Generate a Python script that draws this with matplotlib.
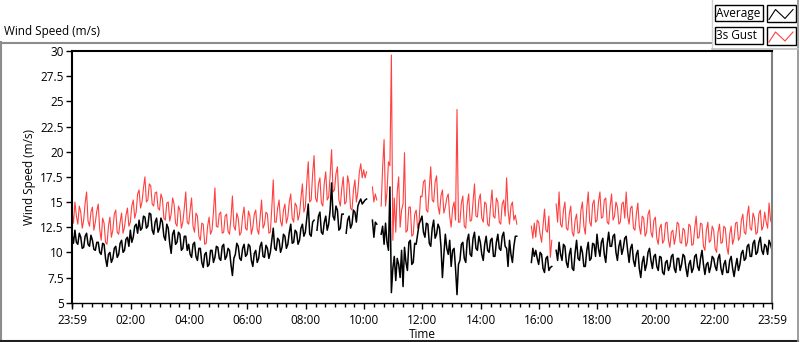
import numpy as np
import matplotlib
matplotlib.use("Agg")
import matplotlib.pyplot as plt
from matplotlib.patches import Rectangle
from matplotlib.lines import Line2D
from matplotlib.ticker import FixedLocator, FormatStrFormatter

plt.rcParams['font.family'] = ['Open Sans', 'DejaVu Sans']
plt.rcParams['font.size'] = 8.5

nan = np.nan

# one sample every 3 minutes, hours counted from 23:59 (one row per hour)
gust = [
    14.2, 12.9, 15.0, 13.6, 12.8, 14.6, 14.0, 12.4, 13.2, 14.9, 16.0, 13.1, 12.6, 14.0, 14.5, 12.2, 13.0, 14.1, 14.8, 12.3,
    11.2, 13.4, 12.9, 11.0, 10.8, 12.6, 13.5, 11.5, 12.2, 13.8, 14.2, 12.0, 11.8, 13.0, 13.9, 11.9, 12.5, 13.7, 14.4, 12.6,
    13.0, 14.6, 15.2, 13.4, 14.0, 15.8, 16.2, 14.4, 15.0, 16.4, 17.5, 15.0, 15.2, 16.8, 16.6, 14.8, 14.6, 15.9, 16.0, 14.4,
    14.2, 15.8, 15.3, 13.4, 13.2, 14.9, 15.0, 13.1, 13.8, 15.4, 14.8, 12.9, 12.6, 14.6, 14.2, 12.4, 13.0, 14.4, 16.0, 13.0,
    12.8, 14.2, 15.4, 12.6, 12.0, 13.9, 13.6, 11.6, 11.2, 12.9, 12.8, 10.8, 10.9, 12.6, 13.5, 11.8, 12.2, 14.0, 16.4, 12.6,
    12.5, 13.8, 14.0, 11.9, 12.0, 13.6, 13.8, 12.1, 11.8, 13.4, 15.6, 12.6, 12.2, 13.9, 13.4, 11.7, 12.0, 13.6, 14.5, 12.4,
    12.2, 14.1, 13.6, 11.8, 12.5, 13.8, 14.2, 12.3, 11.8, 13.5, 15.2, 12.4, 12.8, 14.0, 13.8, 11.9, 12.0, 14.4, 17.2, 13.0,
    13.0, 14.4, 15.2, 13.1, 12.6, 14.2, 14.8, 12.9, 13.5, 15.0, 15.8, 13.4, 13.0, 14.9, 14.6, 13.2, 13.8, 15.4, 16.8, 14.0,
    14.5, 17.0, 19.0, 15.0, 15.2, 17.8, 19.6, 15.4, 15.0, 16.8, 17.4, 14.9, 14.6, 16.9, 18.0, 15.2, 15.5, 17.6, 20.2, 16.0,
    16.2, 17.8, 18.5, 15.2, 14.6, 16.4, 17.5, 14.8, 15.0, 17.6, 16.8, 14.4, 14.2, 16.2, 17.2, 15.0, 16.0, 17.9, 18.8, 17.4,
    18.2, 17.4, 18.0, nan, nan, nan, 16.5, 15.0, 15.8, 15.2, nan, nan, 14.6, 18.4, 21.2, 14.6, 16.0, 19.0, 18.6, 29.6,
    11.2, 15.4, 12.0, 16.0, 17.5, 12.5, 14.2, 14.8, 19.9, 12.0, 12.2, 14.5, 14.5, 11.6, 11.8, 13.8, 14.2, 12.4, 13.0, 15.6,
    15.5, 17.0, 17.2, 14.2, 14.0, 16.4, 18.5, 15.2, 15.0, 17.0, 17.6, 14.6, 13.8, 15.6, 16.2, 13.9, 14.5, 15.4, 15.8, 13.6,
    12.5, 14.4, 15.0, 13.2, 24.2, 13.0, 13.0, 14.9, 15.6, 12.6, 12.4, 14.8, 15.8, 13.1, 13.2, 15.0, 16.8, 13.6, 13.5, 15.2,
    15.8, 13.4, 13.0, 15.0, 14.8, 12.8, 12.6, 14.6, 16.2, 13.6, 13.4, 15.4, 15.0, 13.0, 12.8, 14.8, 15.2, 13.6, 17.4, 14.2,
    12.8, 14.6, 15.0, 13.2, 13.7, 12.8, nan, nan, nan, nan, nan, nan, nan, nan, nan, 12.6, 11.4, 12.9, 11.5, 13.2,
    13.0, 11.8, 11.0, 12.6, 14.3, 12.2, 12.0, 13.6, 9.5, 11.2, nan, nan, 14.8, 13.0, 16.0, 12.8, 12.5, 14.2, 15.0, 12.4,
    12.2, 13.8, 14.6, 12.0, 11.6, 13.2, 13.8, 11.9, 12.0, 14.2, 15.0, 12.6, 11.8, 14.4, 16.0, 13.0, 12.6, 14.8, 15.2, 13.0,
    13.2, 15.0, 16.0, 13.4, 13.5, 15.2, 15.4, 13.0, 12.8, 14.6, 15.8, 13.2, 13.6, 15.0, 14.5, 12.8, 13.0, 14.8, 15.0, 13.4,
    16.0, 13.6, 12.8, 14.4, 14.6, 12.4, 12.2, 13.8, 14.9, 12.6, 11.8, 13.6, 13.4, 11.6, 12.0, 13.8, 14.2, 12.0, 11.5, 13.2,
    13.5, 11.4, 10.8, 12.4, 12.8, 10.9, 11.2, 12.9, 13.0, 11.2, 10.5, 12.0, 12.2, 10.8, 11.6, 13.0, 12.8, 11.0, 10.9, 12.4,
    12.2, 10.6, 11.0, 12.8, 12.6, 10.7, 10.8, 12.4, 13.6, 11.4, 11.5, 12.9, 12.8, 10.6, 10.2, 12.2, 13.0, 11.0, 11.2, 12.6,
    12.2, 10.4, 10.0, 12.0, 12.8, 10.9, 11.0, 12.6, 12.4, 10.6, 9.8, 11.8, 12.6, 10.8, 11.4, 12.9, 13.0, 11.2, 11.5, 13.2,
    13.8, 12.0, 11.8, 13.6, 14.6, 12.4, 12.2, 13.9, 13.4, 11.8, 12.0, 13.8, 14.2, 12.2, 12.6, 14.0, 13.0, 12.4, 14.9, 13.2,
    12.8,
]

average = [
    11.8, 10.9, 12.2, 11.0, 10.8, 11.9, 11.5, 10.4, 10.5, 11.6, 11.9, 10.8, 10.6, 11.7, 11.2, 10.3, 10.2, 11.0, 11.0, 10.0,
    9.8, 10.9, 10.8, 9.4, 8.6, 9.8, 10.0, 9.0, 9.4, 10.4, 10.6, 9.5, 9.8, 10.9, 11.2, 10.0, 10.2, 11.3, 11.5, 10.6,
    12.2, 11.0, 11.5, 12.6, 12.8, 11.9, 13.2, 12.2, 12.4, 13.6, 13.5, 12.4, 12.6, 13.9, 13.8, 12.2, 11.8, 13.0, 13.4, 12.0,
    12.4, 13.4, 13.0, 11.6, 11.2, 12.8, 12.4, 10.9, 9.9, 11.8, 12.2, 10.8, 11.0, 12.0, 11.8, 10.2, 10.4, 11.6, 11.6, 10.2,
    10.8, 9.8, 9.5, 10.8, 11.0, 9.6, 9.2, 10.4, 10.4, 9.0, 8.5, 9.8, 10.0, 8.6, 8.8, 10.2, 10.2, 9.0, 9.5, 10.6,
    10.5, 9.4, 9.2, 10.6, 10.8, 9.3, 9.6, 10.4, 10.2, 8.8, 7.7, 9.4, 9.8, 10.9, 10.6, 9.4, 9.2, 10.4, 10.8, 9.6,
    9.8, 10.8, 10.6, 9.2, 8.6, 9.9, 10.2, 9.0, 9.4, 10.6, 11.0, 9.6, 9.5, 10.7, 10.4, 9.4, 10.0, 11.2, 12.4, 10.4,
    10.2, 11.4, 11.2, 10.0, 10.5, 11.8, 11.6, 10.4, 10.8, 12.0, 12.8, 10.9, 11.0, 12.2, 12.0, 10.8, 11.2, 12.4, 12.8, 11.6,
    12.0, 13.4, 14.8, 11.8, 11.6, 13.0, 13.2, nan, 12.2, 13.6, 14.0, 12.0, 11.8, 13.0, 13.6, 12.2, 12.8, 14.2, 16.9, 13.6,
    13.2, 14.6, 14.2, 12.2, 12.4, 13.8, 13.8, nan, 11.9, 13.2, 13.6, 12.4, 12.8, 14.2, 14.0, 13.0, 14.6, 15.0, 15.3, 14.8,
    15.0, 15.2, 15.3, nan, nan, nan, 13.2, 11.5, 13.0, 12.8, nan, nan, 11.8, 12.6, 10.8, 12.9, 11.0, 10.2, 16.5, 6.0,
    8.4, 9.6, 7.2, 9.4, 8.8, 7.5, 10.2, 6.6, 10.5, 9.0, 8.2, 11.0, 11.2, 8.8, 9.0, 10.9, 10.8, 11.8, 12.8, 13.2,
    13.6, 12.0, 11.5, 12.9, 12.8, 10.9, 10.6, 12.4, 13.2, 11.4, 11.8, 12.8, 12.4, 10.6, 7.5, 9.8, 11.8, 10.4, 9.8, 11.2,
    8.6, 10.2, 10.4, 8.4, 5.8, 8.8, 9.2, 10.8, 11.0, 9.4, 9.0, 11.2, 11.8, 9.8, 9.6, 11.4, 12.0, 10.4, 10.2, 11.6,
    11.0, 9.8, 9.2, 10.8, 11.6, 10.2, 10.0, 11.2, 11.4, 9.6, 9.6, 11.0, 11.8, 10.4, 10.2, 11.6, 12.0, 10.6, 10.4, 8.6,
    11.2, 9.8, 9.0, 10.6, 11.6, 11.6, nan, nan, nan, nan, nan, nan, nan, nan, nan, 9.0, 10.4, 9.6, 10.2, 9.4,
    8.8, 10.0, 9.8, 8.4, 8.0, 9.4, 9.6, 8.2, 8.5, 8.6, nan, nan, 10.2, 9.2, 11.0, 9.8, 9.2, 10.8, 10.6, 9.0,
    8.5, 9.8, 10.4, 8.4, 8.2, 10.0, 11.2, 9.4, 9.2, 10.6, 10.0, 8.6, 8.6, 10.2, 11.0, 9.2, 9.4, 10.9, 10.8, 9.6,
    11.8, 10.4, 9.6, 11.0, 11.4, 9.8, 9.0, 10.8, 12.0, 10.6, 10.6, 11.6, 11.8, 10.0, 9.2, 10.6, 11.2, 9.8, 10.4, 11.4,
    11.6, 10.2, 9.0, 10.4, 10.8, 9.2, 8.6, 9.8, 10.2, 8.4, 7.5, 9.0, 9.6, 8.2, 8.8, 10.0, 10.4, 9.2, 8.4, 9.6,
    9.8, 8.6, 8.2, 9.6, 9.5, 8.0, 7.8, 9.0, 9.2, 8.2, 8.6, 9.6, 9.8, 8.4, 8.0, 9.4, 9.4, 8.2, 8.8, 9.8,
    9.6, 8.4, 7.6, 8.8, 9.2, 8.0, 8.4, 9.6, 9.8, 8.6, 8.2, 9.4, 10.2, 8.8, 7.8, 8.8, 9.0, 8.0, 8.6, 9.6,
    9.4, 8.6, 8.2, 9.4, 9.8, 8.4, 7.8, 8.8, 9.2, 8.0, 8.0, 9.2, 9.6, 8.4, 7.6, 8.6, 9.4, 8.2, 8.8, 9.9,
    10.2, 9.2, 9.4, 10.6, 10.8, 9.6, 9.6, 10.9, 11.2, 9.8, 10.0, 11.0, 11.5, 10.2, 9.8, 10.8, 10.6, 9.8, 11.2, 10.8,
    10.2,
]

hours = np.arange(len(gust)) * 0.05
tick_labels = ['23:59', '02:00', '04:00', '06:00', '08:00', '10:00', '12:00',
               '14:00', '16:00', '18:00', '20:00', '22:00', '23:59']
y_ticks = [5, 7.5, 10, 12.5, 15, 17.5, 20, 22.5, 25, 27.5, 30]

W, H = 800, 342
fig = plt.figure(figsize=(W / 100, H / 100), dpi=100)

# panel decoration drawn in pixel space
bg = fig.add_axes([0, 0, 1, 1], zorder=0)
bg.set_xlim(0, W)
bg.set_ylim(H, 0)
bg.axis('off')
gray = '#8c8c8c'
bg.add_line(Line2D([0, 712], [42.5, 42.5], color=gray, lw=1.5))
bg.add_line(Line2D([0.7, 0.7], [42, H], color=gray, lw=1.5))
bg.add_line(Line2D([0, 798], [341, 341], color='#202020', lw=1.5))
bg.add_line(Line2D([797.5, 797.5], [0, H], color=gray, lw=1.2))
bg.add_line(Line2D([711.5, 711.5], [0, 48.5], color='#d0d0d0', lw=1))
bg.add_line(Line2D([711.5, 798], [48.5, 48.5], color='#c0c0c0', lw=1.2))
bg.text(4, 32, 'Wind Speed (m/s)', va='center', ha='left')

# legend: name box + line icon box
for row, (name, col) in enumerate([('Average', 'black'), ('3s Gust', '#ff4040')]):
    y0 = 4.5 + row * 22.5
    bg.add_patch(Rectangle((715, y0), 47.5, 16.5, fill=False, ec='black', lw=1))
    bg.add_patch(Rectangle((767, y0), 28.5, 17.5, fill=False, ec='black', lw=1))
    bg.text(716.5, y0 + 8.5, name, va='center', ha='left')
    bg.plot([769, 775.5, 785, 793], [y0 + 15, y0 + 5, y0 + 14, y0 + 5], color=col, lw=0.8)

ax = fig.add_axes([72 / W, (H - 302.7) / H, 700 / W, (302.7 - 51) / H], zorder=1)
ax.set_facecolor('white')
ax.plot(hours, gust, color='#ff4040', lw=0.8)
ax.plot(hours, average, color='black', lw=1.1)

ax.set_xlim(0, 24)
ax.set_ylim(5, 30)
ax.set_yticks(y_ticks)
ax.yaxis.set_major_formatter(FormatStrFormatter('%g'))
major_x = [0] + [h + 1 / 60 for h in range(2, 23, 2)] + [24]
ax.set_xticks(major_x)
ax.set_xticklabels(tick_labels)
ax.xaxis.set_minor_locator(FixedLocator([m / 60 + 1 / 60 for m in range(0, 1440, 20)]))
ax.tick_params(axis='both', which='major', length=4, width=1, color='black', pad=2)
ax.tick_params(axis='x', which='minor', length=3, width=1, color='black')
ax.tick_params(axis='x', pad=4)

ax.spines['top'].set_linewidth(1.5)
ax.spines['left'].set_linewidth(1.5)
ax.spines['bottom'].set_linewidth(1.0)
ax.spines['right'].set_color('#808080')
ax.spines['right'].set_linewidth(1.5)

ax.set_xlabel('Time', labelpad=1)
ax.set_ylabel('Wind Speed (m/s)', labelpad=3)

fig.savefig('out.png', dpi=100)
